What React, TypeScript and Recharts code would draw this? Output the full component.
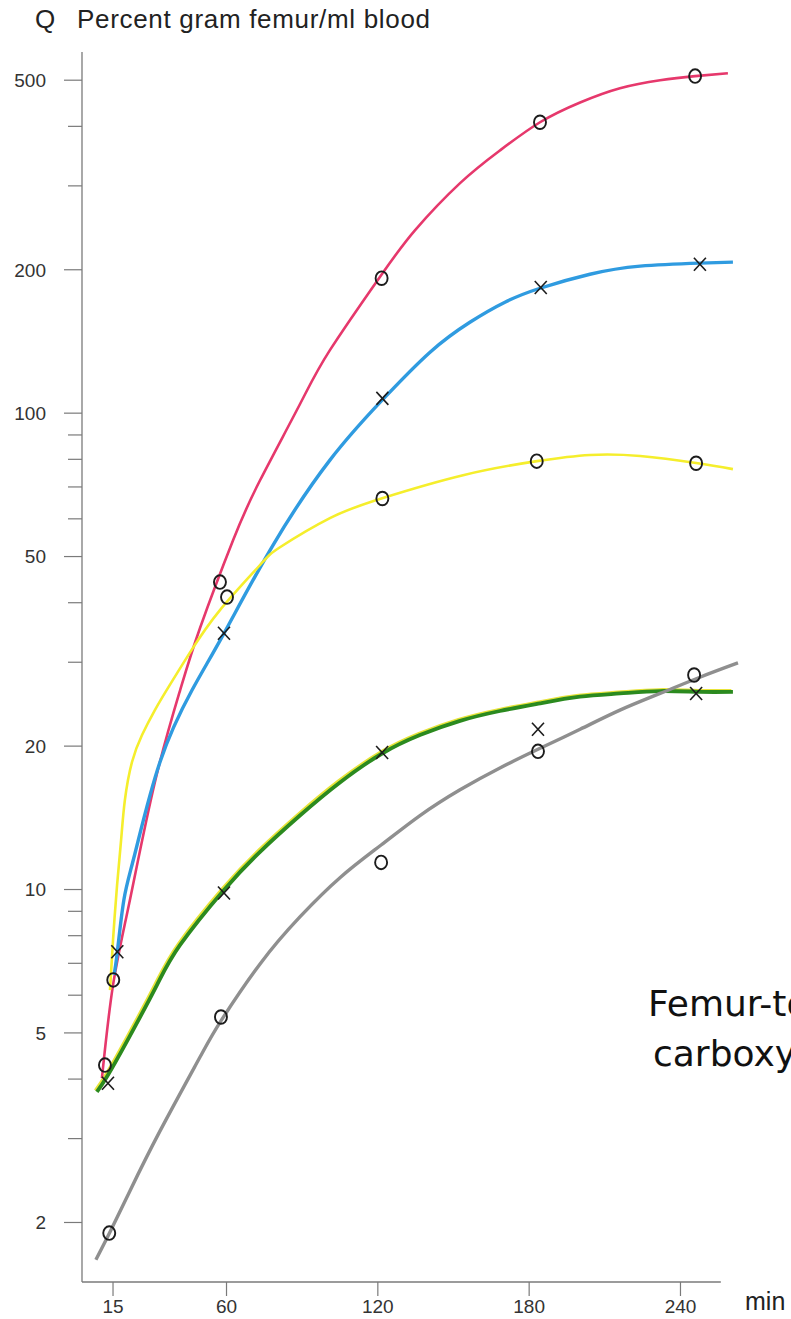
import React from "react";
import { ComposedChart, Line, Scatter, XAxis, YAxis, ReferenceLine } from "recharts";

// x = minutes, y = percent gram femur / ml blood (log scale)
const X_TICKS = [15, 60, 120, 180, 240];
const Y_TICKS = [2, 3, 4, 5, 6, 7, 8, 9, 10, 20, 30, 40, 50, 60, 70, 80, 90, 100, 200, 300, 400, 500];
const Y_LABELED = [2, 5, 10, 20, 50, 100, 200, 500];

// fitted curves
const redCurve = [
  [10.6, 4.02], [15.0, 6.3], [21.7, 9.51], [31.6, 16.8], [41.6, 26.2], [49.5, 35.4], [62.6, 54.1],
  [73.3, 72.3], [89.1, 104.4], [101.0, 135.6], [121.3, 194.8], [134.7, 242], [152.6, 304],
  [168.4, 356], [184.3, 408], [200.2, 449], [216.0, 481], [231.9, 500], [245.8, 510], [258.8, 517],
];
const blueCurve = [
  [15.4, 6.62], [16.7, 7.39], [19.3, 9.51], [23.7, 11.9], [33.6, 18.5], [46.3, 26.2], [59.0, 34.5],
  [78.4, 52.8], [101.0, 79.7], [121.7, 106.5], [140.7, 134.3], [156.5, 155.2], [170.4, 171.0],
  [184.3, 182.9], [204.1, 195.7], [224.0, 203.5], [247.7, 206.5], [260.8, 207.5],
];
const yellowCurve = [
  [13.8, 6.15], [15.0, 7.83], [16.6, 10.2], [18.2, 12.7], [19.7, 15.4], [22.5, 18.5], [26.5, 21.1],
  [31.6, 23.8], [36.8, 26.5], [45.6, 31.5], [57.4, 38.6], [73.3, 48.0], [81.2, 52.3], [101.0, 60.2],
  [121.7, 66.3], [153.8, 74.1], [183.1, 79.3], [204.1, 81.7], [224.0, 81.3], [246.2, 78.6], [260.8, 76.3],
];
const greenCurve = [
  [8.6, 3.76], [13.0, 4.08], [21.7, 4.93], [32.4, 6.3], [41.6, 7.65], [59.0, 9.98], [73.3, 12.0],
  [89.1, 14.3], [105.1, 16.8], [121.7, 19.3], [136.7, 21.1], [152.6, 22.6], [168.4, 23.7],
  [184.3, 24.6], [200.2, 25.4], [216.0, 25.8], [231.9, 26.1], [247.7, 26.0], [260.8, 26.0],
];
const grayCurve = [
  [8.2, 1.67], [13.8, 1.91], [21.7, 2.33], [33.6, 3.11], [49.5, 4.45], [57.8, 5.3], [73.3, 6.98],
  [89.1, 8.76], [105.1, 10.6], [121.3, 12.4], [136.7, 14.3], [152.6, 16.2], [168.4, 18.0],
  [183.5, 19.7], [200.2, 21.7], [216.0, 23.8], [231.9, 25.8], [247.7, 27.9], [262.8, 29.9],
];

// measured points (O / X)
const redMarks = [[11.8, 4.28], [57.4, 44.2], [121.5, 192], [184.3, 408], [245.8, 510]];
const blueMarks = [[16.7, 7.4], [59.0, 34.5], [121.8, 107.4], [184.6, 183.5], [247.7, 205.4]];
const yellowMarks = [[15.1, 6.46], [60.2, 41.1], [121.8, 66.2], [183.0, 79.3], [246.2, 78.5]];
const greenMarks = [[13.0, 3.92], [59.0, 9.83], [121.7, 19.4], [183.5, 21.7], [246.2, 25.8]];
const grayMarks = [[13.5, 1.9], [57.8, 5.4], [121.3, 11.4], [183.5, 19.5], [245.4, 28.2]];

const toRows = (pts: number[][]) => pts.map(([x, y]) => ({ x, y }));

const SERIES = [
  { name: "red", color: "#e6386c", width: 2.6, curve: redCurve, marks: redMarks, mark: "O" },
  { name: "blue", color: "#2f9be0", width: 3.4, curve: blueCurve, marks: blueMarks, mark: "X" },
  { name: "yellow", color: "#f5ee2c", width: 2.6, curve: yellowCurve, marks: yellowMarks, mark: "O" },
  { name: "green", color: "#2b8a1f", width: 3.8, curve: greenCurve, marks: greenMarks, mark: "X" },
  { name: "gray", color: "#8f8f8f", width: 3.4, curve: grayCurve, marks: grayMarks, mark: "O" },
];

const FONT = "'Liberation Sans', Arial, Helvetica, sans-serif";
const AXIS = "#7a7a7a";

function YTick(props: any) {
  const { x, y, payload } = props;
  const major = Y_LABELED.includes(payload.value);
  return (
    <g>
      <line x1={x} x2={x - (major ? 18 : 14)} y1={y} y2={y} stroke={AXIS} strokeWidth={1.2} />
      {major && (
        <text x={x - 36} y={y} dy="0.36em" textAnchor="end" fontSize={19} fill="#333" fontFamily={FONT}>
          {payload.value}
        </text>
      )}
    </g>
  );
}

function XTick(props: any) {
  const { x, y, payload } = props;
  return (
    <g>
      <line x1={x} x2={x} y1={y} y2={y + 14} stroke={AXIS} strokeWidth={1.2} />
      <text x={x} y={y + 31} textAnchor="middle" fontSize={19} fill="#333" fontFamily={FONT}>
        {payload.value}
      </text>
    </g>
  );
}

const markShape = (kind: string) => (p: any) => {
  const { cx, cy } = p;
  if (kind === "O") {
    return <ellipse cx={cx} cy={cy} rx={6} ry={6.8} fill="none" stroke="#1c1c1c" strokeWidth={1.9} />;
  }
  return (
    <g stroke="#1c1c1c" strokeWidth={1.6}>
      <line x1={cx - 6} y1={cy - 6.5} x2={cx + 6} y2={cy + 6.5} />
      <line x1={cx + 6} y1={cy - 6.5} x2={cx - 6} y2={cy + 6.5} />
    </g>
  );
};

export default function App() {
  return (
    <div style={{ position: "absolute", left: 0, top: 0, width: 791, height: 1319, overflow: "hidden", background: "#fff" }}>
      {/* print misregistration: thin yellow edge on the green curve */}
      <style>{`.green-fringe { transform: translate(-1.6px, -1.4px); }`}</style>
      <ComposedChart width={791} height={1319} margin={{ top: 52, right: 51, bottom: 0, left: 0 }}>
        <XAxis
          type="number"
          dataKey="x"
          domain={[2.7, 263.6]}
          ticks={X_TICKS}
          interval={0}
          allowDataOverflow
          axisLine={false}
          tickLine={false}
          tickSize={0}
          tickMargin={0}
          height={37}
          tick={<XTick />}
        />
        <YAxis
          type="number"
          dataKey="y"
          scale="log"
          domain={[1.5, 573]}
          ticks={Y_TICKS}
          interval={0}
          allowDataOverflow
          width={82}
          axisLine={{ stroke: AXIS, strokeWidth: 1.3 }}
          tickLine={false}
          tickSize={0}
          tickMargin={0}
          tick={<YTick />}
        />
        <ReferenceLine
          segment={[{ x: 2.7, y: 1.5 }, { x: 256, y: 1.5 }]}
          stroke={AXIS}
          strokeWidth={1.3}
        />
        <Line
          className="green-fringe"
          data={toRows(greenCurve)}
          dataKey="y"
          type="natural"
          stroke="#e8e43a"
          strokeWidth={3}
          dot={false}
          activeDot={false}
          isAnimationActive={false}
        />
        {SERIES.map((s) => (
          <Line
            key={s.name}
            data={toRows(s.curve)}
            dataKey="y"
            type="natural"
            stroke={s.color}
            strokeWidth={s.width}
            dot={false}
            activeDot={false}
            isAnimationActive={false}
          />
        ))}
        {SERIES.map((s) => (
          <Scatter
            key={s.name + "-m"}
            data={toRows(s.marks)}
            dataKey="y"
            shape={markShape(s.mark)}
            isAnimationActive={false}
          />
        ))}
      </ComposedChart>
      <svg width={791} height={1319} style={{ position: "absolute", left: 0, top: 0, pointerEvents: "none" }}>
        <text x={35} y={28} fontSize={26} fill="#222" fontFamily={FONT}>Q</text>
        <text x={77} y={28} fontSize={26} fill="#222" fontFamily={FONT} textLength={353} lengthAdjust="spacing">
          Percent gram femur/ml blood
        </text>
        <text x={745} y={1310} fontSize={25} fill="#222" fontFamily={FONT}>min</text>
        <text x={648} y={1016} fontSize={36} fill="#111" fontFamily="'Comic Sans MS', 'DejaVu Sans', sans-serif">
          Femur-to-blood
        </text>
        <text x={653} y={1066} fontSize={36} fill="#111" fontFamily="'Comic Sans MS', 'DejaVu Sans', sans-serif">
          carboxyl
        </text>
      </svg>
    </div>
  );
}
